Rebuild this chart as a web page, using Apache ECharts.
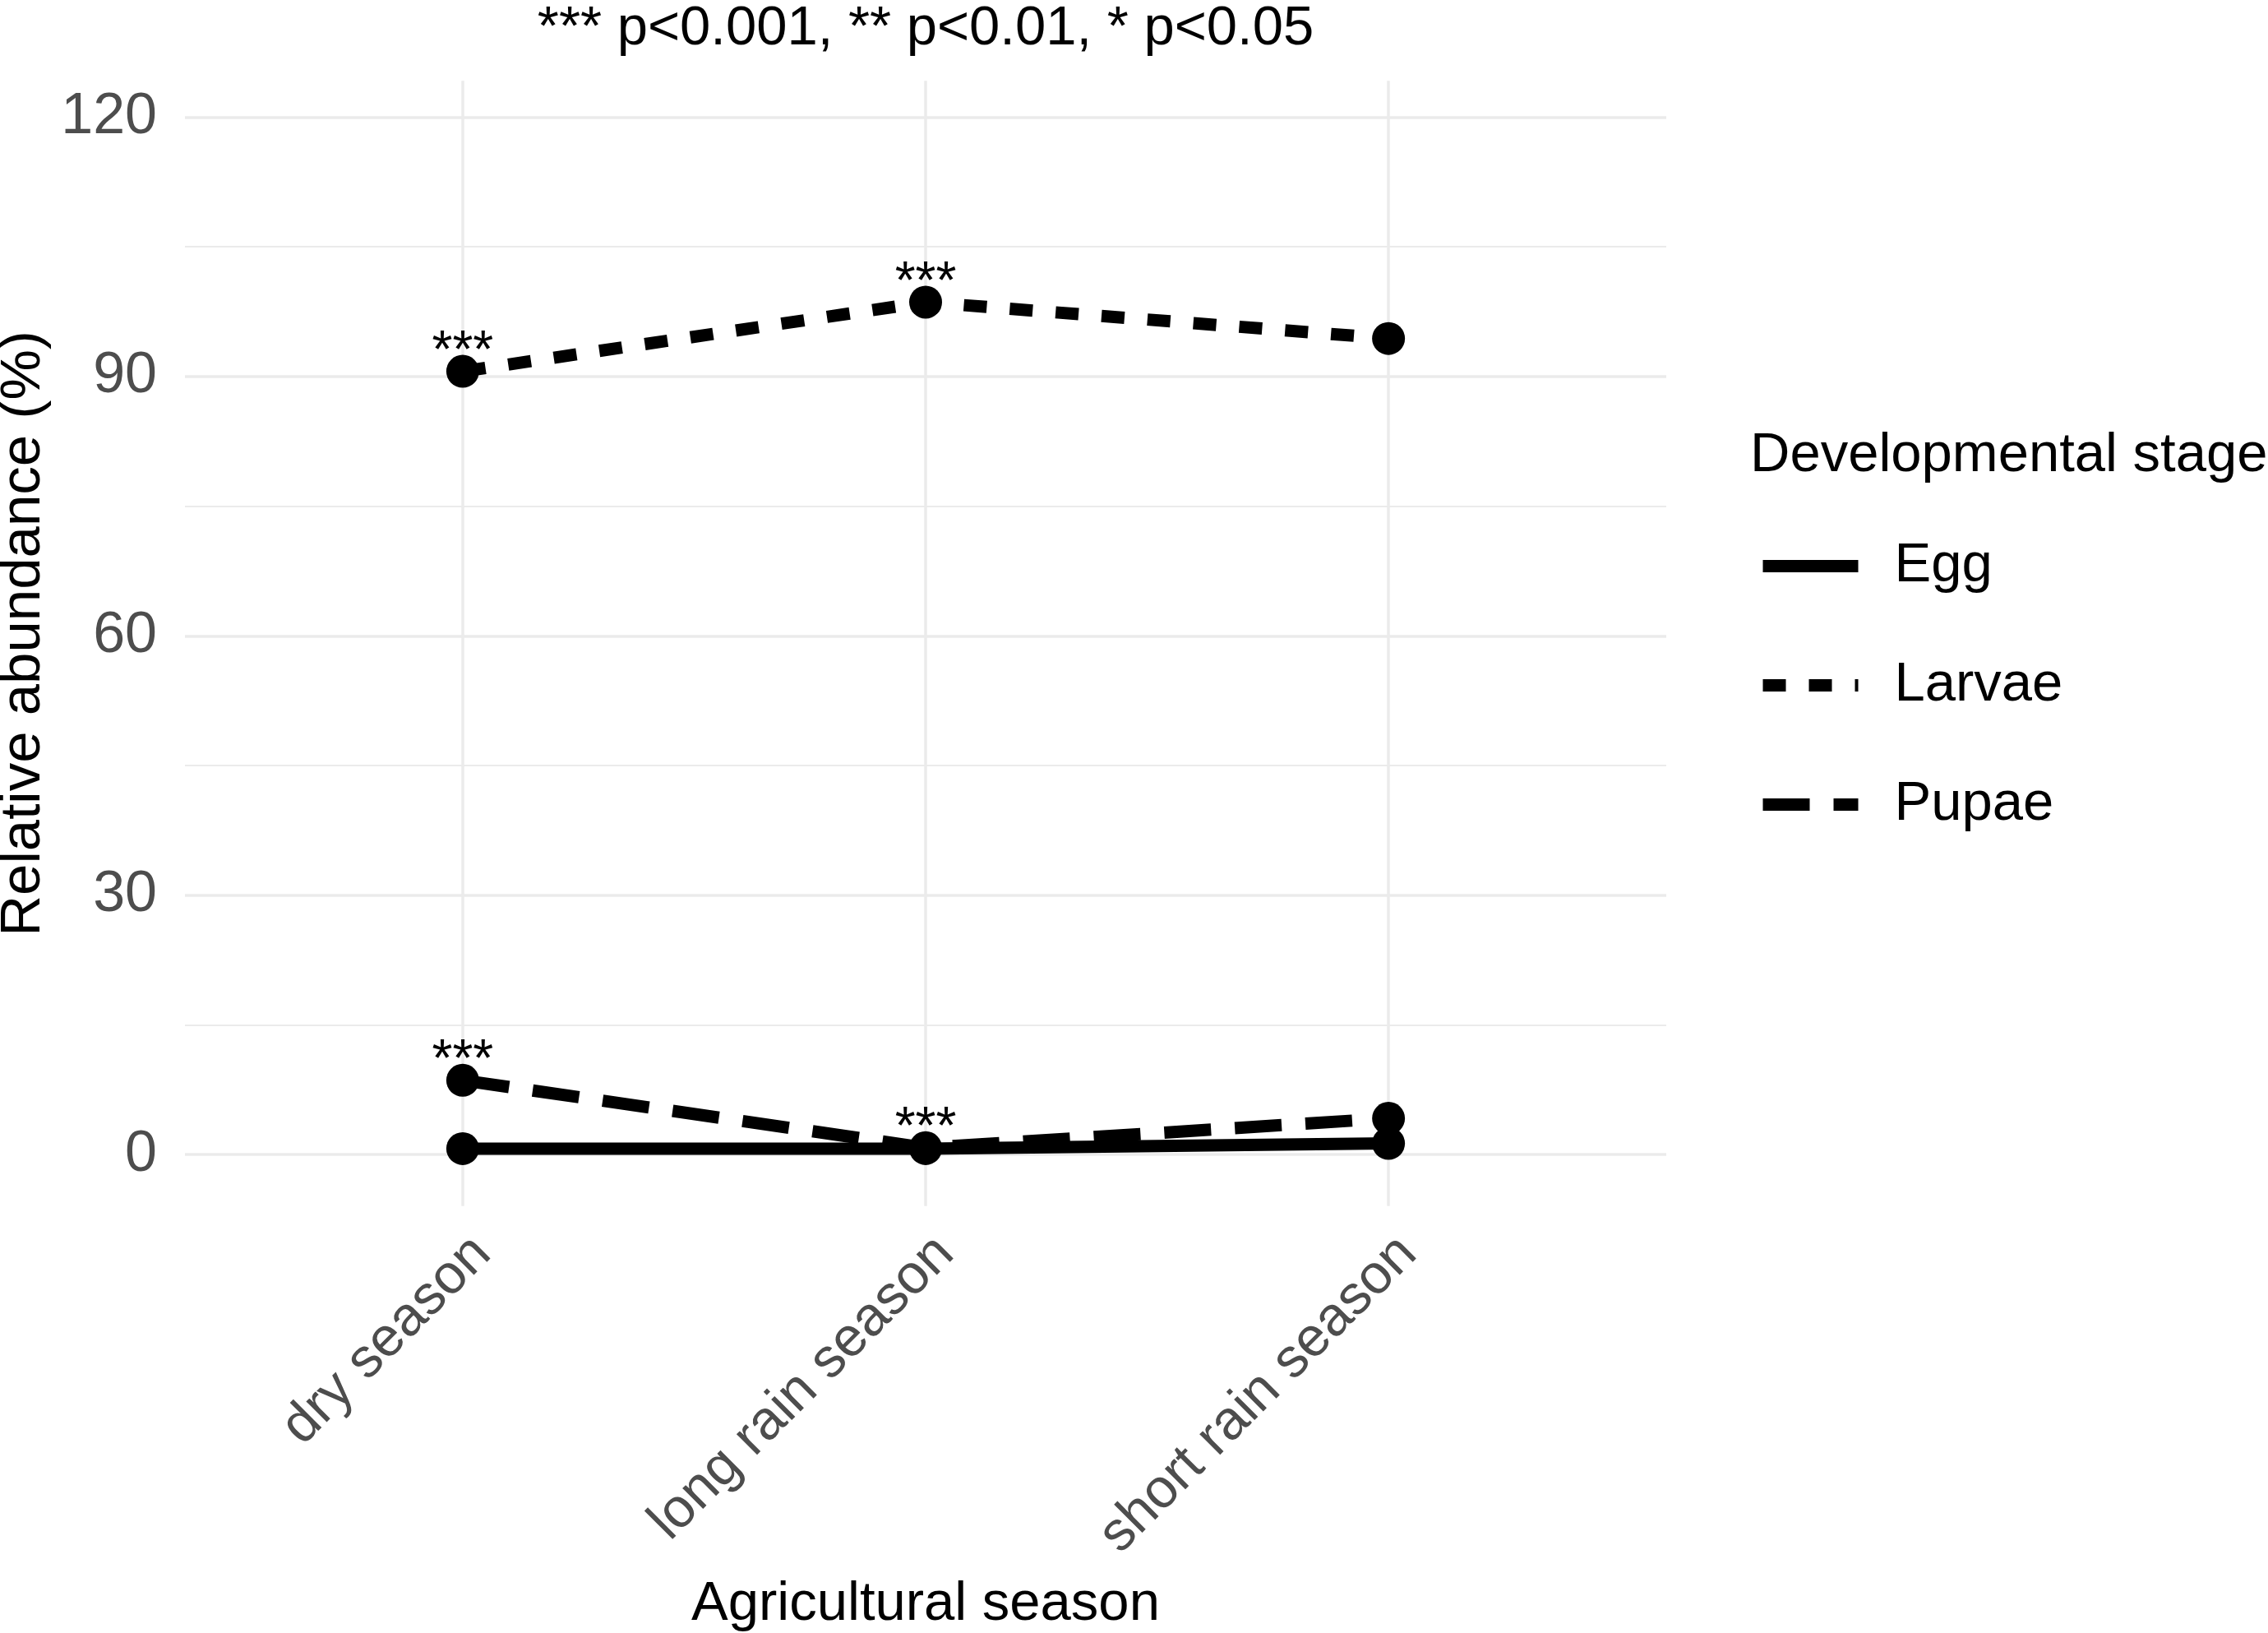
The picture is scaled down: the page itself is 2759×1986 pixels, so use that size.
<!DOCTYPE html>
<html>
<head>
<meta charset="utf-8">
<script src="https://cdn.jsdelivr.net/npm/echarts@6/dist/echarts.min.js"></script>
<style>
html,body{margin:0;padding:0;background:#fff;}
#chart{width:2759px;height:1986px;}
</style>
</head>
<body>
<div id="chart"></div>
<script>
// ---- data ----
const seasons = ['dry season', 'long rain season', 'short rain season'];
const stageNames = ['Egg', 'Larvae', 'Pupae'];
const egg = [0.7, 0.7, 1.3];
const larvae = [90.6, 98.6, 94.4];
const pupae = [8.6, 0.8, 4.2];
const eggSig = ['', '', ''];
const larvaeSig = ['***', '***', ''];
const pupaeSig = ['***', '***', ''];
const yMajorTicks = [0, 30, 60, 90, 120];
const yMinorTicks = [15, 45, 75, 105];
const xTicks = [0, 1, 2];
const titleText = '*** p<0.001, ** p<0.01, * p<0.05';
const legendTitle = 'Developmental stage';

const FONT = 'Liberation Sans, Arial, Helvetica, sans-serif';
const chart = echarts.init(document.getElementById('chart'), null, {renderer: 'canvas', devicePixelRatio: 1});

const dashes = {Egg: 'solid', Larvae: [28, 28], Pupae: [57, 29]};
function makeSeries(name, vals, sig) {
  return {
    name: name,
    type: 'line',
    data: vals.map((v, i) => [i, v]),
    symbol: 'circle',
    symbolSize: 40,
    itemStyle: {color: '#000'},
    lineStyle: {color: '#000', width: 15, type: dashes[name], cap: 'butt'},
    emphasis: {disabled: true},
    label: {
      show: true,
      position: 'inside',
      offset: [0, -22],
      formatter: p => sig[p.dataIndex],
      fontSize: 64,
      color: '#000',
      fontFamily: FONT
    },
    z: 3
  };
}

const yMin = -5.94, yMax = 124.2;
const option = {
  backgroundColor: '#fff',
  animation: false,
  title: [
    {text: titleText, left: 1126, top: 2, padding: 0, textAlign: 'center',
     textStyle: {fontSize: 67, fontWeight: 'normal', color: '#000', fontFamily: FONT, lineHeight: 67}},
    {text: legendTitle, left: 2129, top: 521, padding: 0,
     textStyle: {fontSize: 67, fontWeight: 'normal', color: '#000', fontFamily: FONT, lineHeight: 67}}
  ],
  grid: {left: 225, right: 732, top: 98.3, bottom: 519.3, containLabel: false, outerBoundsMode: 'none'},
  legend: {
    orient: 'vertical',
    left: 2137, top: 655,
    itemWidth: 116, itemHeight: 66, itemGap: 78,
    padding: 0,
    itemStyle: {opacity: 0},
    lineStyle: {width: 15},
    textStyle: {fontSize: 67, color: '#000', fontFamily: FONT, lineHeight: 66, padding: [0, 0, 0, 39]},
    data: stageNames
  },
  xAxis: {
    type: 'value', min: -0.6, max: 2.6,
    name: 'Agricultural season', nameLocation: 'middle', nameGap: 451,
    nameTextStyle: {fontSize: 67, color: '#000', fontFamily: FONT},
    axisLine: {show: false},
    axisTick: {show: false, customValues: xTicks},
    axisLabel: {customValues: xTicks, rotate: 45, fontSize: 67, color: '#4d4d4d', fontFamily: FONT,
      margin: 24, align: 'right', verticalAlign: 'top', formatter: v => seasons[Math.round(v)]},
    splitLine: {show: true, lineStyle: {color: '#ebebeb', width: 3.5}}
  },
  yAxis: [
    {
      type: 'value', min: yMin, max: yMax,
      name: 'Relative abundance (%)', nameLocation: 'middle', nameGap: 153, nameRotate: 90,
      nameTextStyle: {fontSize: 69, color: '#000', fontFamily: FONT, padding: [0, 0, 0, 24]},
      axisLine: {show: false},
      axisTick: {show: false, customValues: yMajorTicks},
      axisLabel: {customValues: yMajorTicks, fontSize: 70, color: '#4d4d4d', fontFamily: FONT, margin: 34},
      splitLine: {show: true, lineStyle: {color: '#ebebeb', width: 3.5}}
    },
    {
      type: 'value', min: yMin, max: yMax, position: 'left',
      axisLine: {show: false},
      axisTick: {show: false, customValues: yMinorTicks},
      axisLabel: {show: false, customValues: yMinorTicks},
      splitLine: {show: true, lineStyle: {color: '#ebebeb', width: 1.8}}
    }
  ],
  series: [
    makeSeries('Egg', egg, eggSig),
    makeSeries('Larvae', larvae, larvaeSig),
    makeSeries('Pupae', pupae, pupaeSig)
  ]
};
chart.setOption(option);
</script>
</body>
</html>
